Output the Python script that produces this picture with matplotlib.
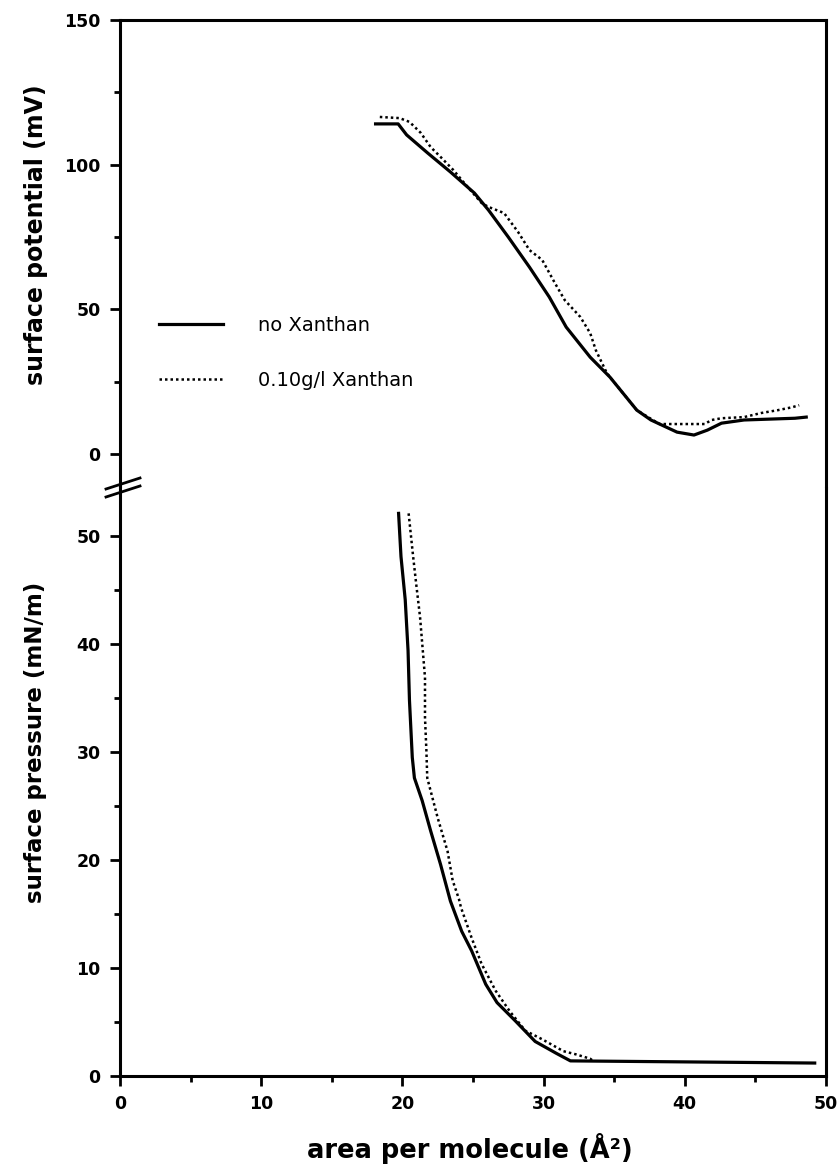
from __future__ import annotations

import matplotlib

matplotlib.use("Agg")

import matplotlib.pyplot as plt
from matplotlib.lines import Line2D

# surface potential (mV) vs area per molecule (A^2)
pot_area_none = [18.1, 19.7, 20.3, 21.8, 23.4, 25.1, 26.1, 27.5, 29.0, 30.4, 31.6, 33.3,
                 34.7, 36.6, 37.6, 39.45, 40.65, 41.6, 42.6, 44.2, 47.8, 48.6]
pot_none = [114.1, 114.1, 110.3, 104.0, 97.5, 90.2, 84.3, 75.0, 64.6, 54.3, 43.9, 33.5,
            26.6, 15.2, 11.8, 7.6, 6.6, 8.3, 10.7, 11.8, 12.4, 12.8]

pot_area_xan = [18.4, 19.8, 20.5, 21.3, 22.0, 22.7, 23.6, 24.5, 25.6, 26.1, 27.2, 28.2,
                29.0, 29.9, 30.8, 31.5, 32.6, 33.3, 33.7, 34.45, 34.7, 36.6, 38.2, 38.5,
                41.4, 41.9, 42.6, 44.2, 45.4, 46.6, 47.6, 48.1]
pot_xan = [116.5, 116.1, 114.8, 111.0, 106.1, 102.7, 98.2, 93.0, 86.8, 85.4, 83.3, 76.7,
           70.5, 67.1, 59.1, 53.2, 47.4, 41.8, 35.9, 28.3, 26.6, 15.2, 10.4, 10.4,
           10.4, 11.8, 12.4, 12.8, 14.2, 15.2, 16.2, 16.9]

# surface pressure (mN/m) vs area per molecule (A^2)
pres_area_none = [19.73, 19.9, 20.2, 20.4, 20.5, 20.7, 20.85, 21.4, 22.0, 22.7, 23.4, 24.2,
                  24.9, 25.9, 26.7, 28.0, 29.4, 30.9, 31.9, 49.2]
pres_none = [52.1, 48.1, 44.1, 39.4, 34.8, 29.5, 27.6, 25.5, 22.7, 19.6, 16.2, 13.4,
             11.6, 8.5, 6.8, 5.1, 3.2, 2.1, 1.4, 1.2]

pres_area_xan = [20.44, 20.76, 21.0, 21.25, 21.4, 21.6, 21.6, 21.7, 21.76, 22.06, 22.5, 23.2,
                 23.56, 24.0, 24.15, 24.9, 25.6, 26.6, 27.6, 28.7, 29.9, 31.4, 32.3, 33.3, 33.5]
pres_xan = [52.1, 48.1, 45.3, 42.5, 40.1, 36.9, 33.2, 30.1, 27.6, 26.1, 23.9, 20.8,
            18.1, 16.4, 15.6, 12.8, 10.4, 7.9, 6.0, 4.2, 3.4, 2.3, 2.0, 1.6, 1.4]

labels = ["no Xanthan", "0.10g/l Xanthan"]

W, H = 838, 1174
LEFT, RIGHT = 120, 826
TOP, BREAK, BOTTOM = 20, 488, 1076

SOLID = dict(color="black", linewidth=2.3, linestyle="-")
DOTTED = dict(color="black", linewidth=1.8, linestyle=(0, (1, 1.2)))


def _fig_box(top_px: float, bottom_px: float) -> list[float]:
    return [LEFT / W, 1 - bottom_px / H, (RIGHT - LEFT) / W, (bottom_px - top_px) / H]


def _style(ax) -> None:
    for side in ("left", "right", "top", "bottom"):
        ax.spines[side].set_linewidth(2.2)
    ax.tick_params(which="major", direction="out", length=7, width=2, labelsize=12.5, pad=7)
    ax.tick_params(which="minor", direction="out", length=4, width=2)
    ax.tick_params(axis="y", right=False, which="both")
    for lbl in ax.get_yticklabels() + ax.get_xticklabels():
        lbl.set_fontweight("bold")


fig = plt.figure(figsize=(W / 100, H / 100), dpi=100)
ax_top = fig.add_axes(_fig_box(TOP, BREAK))
ax_bot = fig.add_axes(_fig_box(BREAK, BOTTOM), sharex=ax_top)

ax_top.plot(pot_area_none, pot_none, **SOLID)
ax_top.plot(pot_area_xan, pot_xan, **DOTTED)
ax_bot.plot(pres_area_none, pres_none, **SOLID)
ax_bot.plot(pres_area_xan, pres_xan, **DOTTED)

ax_bot.set_xlim(0, 50)
ax_top.set_ylim(-11.7, 150)
ax_bot.set_ylim(0, 54.45)

ax_top.set_yticks([0, 50, 100, 150])
ax_top.set_yticks([25, 75, 125], minor=True)
ax_bot.set_yticks([0, 10, 20, 30, 40, 50])
ax_bot.set_yticks([5, 15, 25, 35, 45], minor=True)
ax_bot.set_xticks([0, 10, 20, 30, 40, 50])
ax_bot.set_xticks([5, 15, 25, 35, 45], minor=True)

ax_top.spines["bottom"].set_visible(False)
ax_bot.spines["top"].set_visible(False)
ax_top.tick_params(axis="x", which="both", bottom=False, labelbottom=False)
ax_bot.tick_params(axis="x", which="both", top=False)

_style(ax_top)
_style(ax_bot)

# axis titles
fig.text(36 / W, 1 - 235 / H, "surface potential (mV)", rotation=90, ha="center", va="center",
         fontsize=17, fontweight="bold")
fig.text(36 / W, 1 - 742 / H, "surface pressure (mN/m)", rotation=90, ha="center", va="center",
         fontsize=16.5, fontweight="bold")
fig.text(470 / W, 1 - 1148 / H, "area per molecule (Å²)", ha="center", va="center",
         fontsize=18.5, fontweight="bold")

# break marks on the left axis
for dy in (-4, 4):
    fig.add_artist(Line2D([(LEFT - 14) / W, (LEFT + 20) / W],
                          [1 - (BREAK + dy + 5) / H, 1 - (BREAK + dy - 6) / H],
                          color="black", linewidth=2))

handles = [Line2D([], [], **SOLID), Line2D([], [], **DOTTED)]
ax_top.legend(handles, labels, loc="upper left", bbox_to_anchor=(159 / W, 1 - 316 / H),
              bbox_transform=fig.transFigure, frameon=False, fontsize=14,
              handlelength=3.3, handletextpad=1.8, labelspacing=1.85,
              borderpad=0, borderaxespad=0)

fig.savefig("out.png", dpi=100)
